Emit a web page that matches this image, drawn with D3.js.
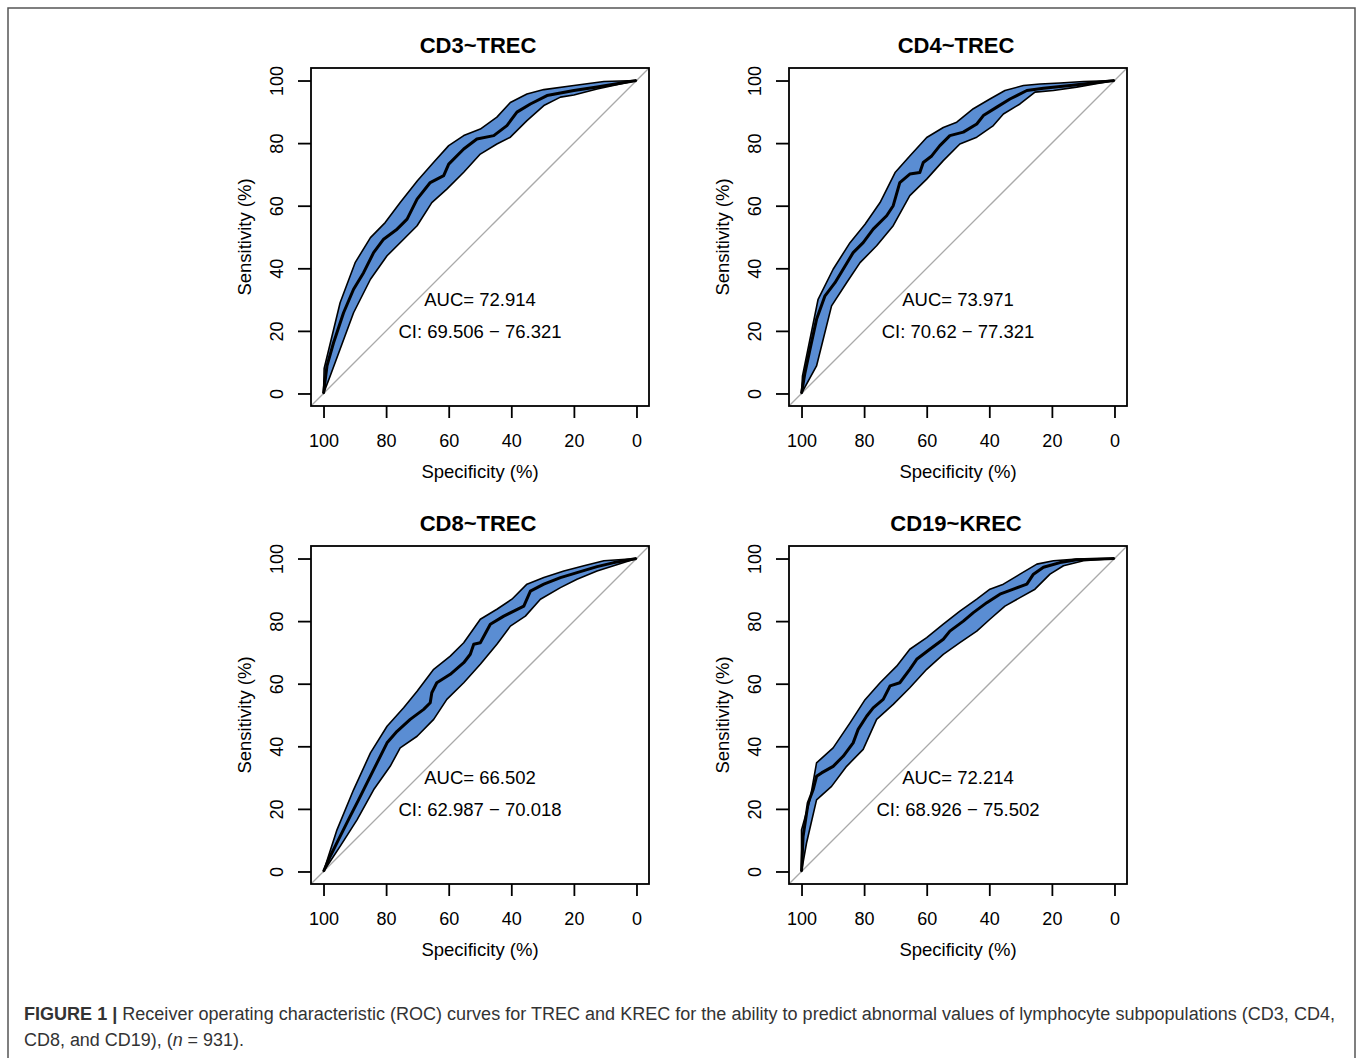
<!DOCTYPE html>
<html>
<head>
<meta charset="utf-8">
<script src="https://d3js.org/d3.v7.min.js"></script>
<style>
  body { margin: 0; padding: 0; background: #fff; }
  svg text { font-family: "Liberation Sans", Arial, sans-serif; fill: #000; }
  .caption text { font-family: "Liberation Sans Narrow", "Liberation Sans", Arial, sans-serif; fill: #333; }
</style>
</head>
<body>
<svg id="fig" width="1358" height="1058"></svg>
<script>
// ROC curves, points are [specificity, sensitivity] in %
var titles = ["CD3~TREC", "CD4~TREC", "CD8~TREC", "CD19~KREC"];
var aucLabels = ["AUC= 72.914", "AUC= 73.971", "AUC= 66.502", "AUC= 72.214"];
var ciLabels = ["CI: 69.506 \u2212 76.321", "CI: 70.62 \u2212 77.321", "CI: 62.987 \u2212 70.018", "CI: 68.926 \u2212 75.502"];
var xTicks = [100, 80, 60, 40, 20, 0];
var yTicks = [0, 20, 40, 60, 80, 100];

var cd3Curve = [[100,0],[98.9,8.8],[96.8,16.2],[93.6,25.8],[90.4,33.3],[87.2,38.6],[84,45],[80.8,49.3],[76.5,52.5],[73.3,55.7],[70.1,62.1],[65.9,67.4],[61.6,69.6],[60,73.3],[55.2,78.1],[51,81.3],[45.6,82.4],[41.4,85.6],[38.2,89.9],[33.9,92.5],[28.6,95.2],[20,96.8],[12.6,97.9],[0,100]];
var cd3Upper = [[100,0],[99.8,8],[94.7,29],[89.9,41.8],[85,49.8],[80.3,54.6],[75.5,61],[70,68],[64.8,73.9],[60,79.2],[55.2,82.4],[49.9,84.5],[44.6,88.3],[40.3,93],[35,95.7],[29.6,97.1],[20,98.4],[10.4,99.7],[0,100]];
var cd3Lower = [[100,0],[97.9,5.5],[90.4,25.8],[85,36.5],[79.7,44],[74.4,49.3],[70.1,53.6],[65.4,61],[60.6,65.3],[55.2,70.7],[49.9,76.5],[44.6,79.7],[40.3,81.9],[35,87.2],[29.6,92],[24.3,94.7],[20,95.4],[12.6,97.3],[0,100]];

var cd4Curve = [[100,0],[98.9,6.6],[97.3,14.1],[95.2,23.7],[92.5,31.2],[89.3,35.4],[86.7,39.7],[83.5,45],[80.3,48.2],[77.1,52.5],[72.8,56.8],[70.7,60],[68.6,67.4],[65.4,70.1],[62.2,70.6],[61.1,73.8],[58.4,75.9],[55.8,79.2],[52.6,82.4],[48.3,83.5],[44,86.1],[41.9,88.8],[37.6,91.5],[33.4,94.1],[28,96.8],[22.7,97.5],[14.2,98.4],[0,100]];
var cd4Upper = [[100,0],[99.7,5.5],[94.7,30.1],[89.9,39.7],[84.5,48.2],[79.7,54.1],[74.9,61],[70.1,70.6],[65.4,75.9],[60,81.8],[54.7,85],[50.4,86.7],[45.1,91],[39.8,94.1],[35,96.8],[29.1,98.4],[23.8,98.9],[17.4,99.2],[9.9,99.7],[0,100]];
var cd4Lower = [[100,0],[95.2,8.8],[90.4,28],[85.6,35.4],[81.3,41.8],[76,47.2],[70.7,53.6],[65.4,63.2],[60,68.5],[54.7,74.4],[49.4,79.7],[44,81.9],[38.7,85.6],[35.5,89.3],[30.2,92.5],[25.4,96.3],[19.5,96.8],[12.1,97.9],[0,100]];

var cd8Curve = [[100,0],[97.9,4.8],[94.7,11.2],[91.5,17.6],[88.8,22.9],[86.1,28.3],[82.9,34.7],[79.7,41.1],[76.5,44.8],[72.3,48.6],[68,51.8],[65.9,53.9],[65.4,57.1],[63.8,60.3],[59.5,63],[55.2,66.7],[53.1,69.4],[52,72.6],[49.9,73.1],[46.7,79],[42.4,81.6],[39.2,83.2],[36,84.8],[33.9,89.6],[29.6,91.8],[24.3,93.9],[19,95.5],[12.6,97.4],[7.2,98.7],[0,100]];
var cd8Upper = [[100,0],[95.7,13.3],[90.4,26.1],[85,37.9],[79.7,46.4],[74.4,52.3],[70.1,57.6],[64.8,64.6],[59.5,68.8],[55.2,73.1],[49.9,80.6],[44.6,83.8],[39.8,87],[35,91.8],[29.6,93.9],[23.2,96],[16.8,97.7],[10.4,99.3],[0,100]];
var cd8Lower = [[100,0],[94.7,8],[89.3,16.5],[84,26.1],[78.7,33.6],[75.5,39.5],[70.1,43.2],[64.8,48.6],[60.6,55],[55.2,60.3],[49.9,66.2],[44.6,72.6],[40.3,78.4],[35.5,81.6],[30.7,87],[24.3,90.7],[19,93.4],[12.6,96],[0,100]];

var cd19Curve = [[100,0],[99.5,11.2],[97.9,21.9],[96.3,26.1],[95.2,30.4],[93.6,31.5],[89.9,33.6],[86.7,36.8],[83.5,41.1],[81.9,45.4],[79.2,49.6],[77.1,52.3],[73.9,55],[71.7,59.3],[68.6,60.3],[65.4,64.6],[63.2,67.8],[59,71],[54.7,74.2],[52.6,76.8],[48.3,80],[45.1,82.7],[40.8,85.9],[36.6,88.6],[32.3,90.2],[28,91.8],[25.9,95],[22.7,97.2],[17.4,98.7],[12.1,99.6],[0,100]];
var cd19Upper = [[100,0],[100,13.3],[97.3,22.9],[95.2,34.7],[89.9,39.5],[84.5,47.5],[79.7,54.9],[74.9,60.3],[69.6,65.6],[65.4,71],[60,74.7],[54.7,79],[49.4,83.2],[44,87],[39.8,90.2],[35.5,91.8],[30.2,95],[24.8,98.2],[19.5,99.3],[12.1,99.8],[0,100]];
var cd19Lower = [[100,0],[98.4,9.1],[95.2,22.9],[90.4,27.2],[85.6,33.6],[80.3,39],[76,48.6],[70.7,53.4],[65.4,58.7],[60,64.6],[54.7,69.4],[49.4,73.1],[44,76.8],[39.8,80.6],[35,84.8],[30.2,87.5],[25.4,90.2],[20.6,95],[16.3,97.7],[9.9,99.3],[0,100]];

var curves = [cd3Curve, cd4Curve, cd8Curve, cd19Curve];
var uppers = [cd3Upper, cd4Upper, cd8Upper, cd19Upper];
var lowers = [cd3Lower, cd4Lower, cd8Lower, cd19Lower];

// layout
var boxW = 338, boxH = 338;
var origins = [[311, 68], [789, 68], [311, 546], [789, 546]];
var bandColor = "#5a8dd3";

var svg = d3.select("#fig");

// outer figure frame
svg.append("rect")
    .attr("x", 8).attr("y", 8)
    .attr("width", 1347).attr("height", 1080)
    .attr("fill", "none")
    .attr("stroke", "#555")
    .attr("stroke-width", 1.5);

var x = d3.scaleLinear().domain([104, -4]).range([0, boxW]);
var y = d3.scaleLinear().domain([-4, 104]).range([boxH, 0]);

var line = d3.line().x(function(d) { return x(d[0]); }).y(function(d) { return y(d[1]); });

for (var i = 0; i < 4; i++) {
    var g = svg.append("g")
        .attr("transform", "translate(" + origins[i][0] + "," + origins[i][1] + ")");

    var clipId = "clip" + i;
    g.append("clipPath").attr("id", clipId)
        .append("rect").attr("width", boxW).attr("height", boxH);

    // chance line
    g.append("line")
        .attr("clip-path", "url(#" + clipId + ")")
        .attr("x1", x(104)).attr("y1", y(-4))
        .attr("x2", x(-4)).attr("y2", y(104))
        .attr("stroke", "#aaa")
        .attr("stroke-width", 1.3);

    // confidence band
    var band = uppers[i].concat(lowers[i].slice().reverse());
    g.append("path")
        .attr("d", line(band) + "Z")
        .attr("fill", bandColor)
        .attr("stroke", "#000")
        .attr("stroke-width", 1.6)
        .attr("stroke-linejoin", "round");

    // ROC curve
    g.append("path")
        .attr("d", line(curves[i]))
        .attr("fill", "none")
        .attr("stroke", "#000")
        .attr("stroke-width", 3)
        .attr("stroke-linejoin", "round");

    // box
    g.append("rect")
        .attr("width", boxW).attr("height", boxH)
        .attr("fill", "none")
        .attr("stroke", "#000")
        .attr("stroke-width", 1.8);

    // axes
    var xAxis = d3.axisBottom(x).tickValues(xTicks).tickSize(12).tickPadding(6).tickFormat(d3.format("d"));
    var xg = g.append("g").attr("transform", "translate(0," + boxH + ")").call(xAxis);
    xg.select(".domain").remove();
    xg.selectAll(".tick line").attr("stroke", "#000").attr("stroke-width", 1.8);
    xg.selectAll(".tick text")
        .attr("font-size", 18).attr("font-family", "Liberation Sans, Arial, sans-serif")
        .attr("y", 0).attr("dy", 0)
        .attr("transform", "translate(0,41)")
        .attr("fill", "#000");

    var yAxis = d3.axisLeft(y).tickValues(yTicks).tickSize(13).tickFormat(d3.format("d"));
    var yg = g.append("g").call(yAxis);
    yg.select(".domain").remove();
    yg.selectAll(".tick line").attr("stroke", "#000").attr("stroke-width", 1.8);
    yg.selectAll(".tick text")
        .attr("font-size", 18).attr("font-family", "Liberation Sans, Arial, sans-serif")
        .attr("x", 0).attr("dy", 0)
        .attr("text-anchor", "middle")
        .attr("transform", "translate(-28,0) rotate(-90)")
        .attr("fill", "#000");

    // title
    g.append("text")
        .attr("x", boxW / 2 - 2).attr("y", -15)
        .attr("text-anchor", "middle")
        .attr("font-weight", "bold")
        .attr("font-size", 22)
        .text(titles[i]);

    // axis titles
    g.append("text")
        .attr("x", boxW / 2).attr("y", boxH + 72)
        .attr("text-anchor", "middle")
        .attr("font-size", 18.5)
        .text("Specificity (%)");

    g.append("text")
        .attr("transform", "translate(-60," + (boxH / 2) + ") rotate(-90)")
        .attr("text-anchor", "middle")
        .attr("font-size", 18.5)
        .text("Sensitivity (%)");

    // AUC labels
    g.append("text")
        .attr("x", x(50)).attr("y", y(27.9))
        .attr("text-anchor", "middle")
        .attr("font-size", 18.5)
        .text(aucLabels[i]);
    g.append("text")
        .attr("x", x(50)).attr("y", y(17.6))
        .attr("text-anchor", "middle")
        .attr("font-size", 18.5)
        .text(ciLabels[i]);
}

// caption
var cap = svg.append("g").attr("class", "caption");
var l1 = cap.append("text").attr("x", 24).attr("y", 1020).attr("font-size", 18)
    .attr("textLength", 1311).attr("lengthAdjust", "spacingAndGlyphs");
l1.append("tspan").attr("font-weight", "bold").text("FIGURE 1 |");
l1.append("tspan").text(" Receiver operating characteristic (ROC) curves for TREC and KREC for the ability to predict abnormal values of lymphocyte subpopulations (CD3, CD4,");
var l2 = cap.append("text").attr("x", 24).attr("y", 1046).attr("font-size", 18)
    .attr("textLength", 220).attr("lengthAdjust", "spacingAndGlyphs");
l2.append("tspan").text("CD8, and CD19), (");
l2.append("tspan").attr("font-style", "italic").text("n");
l2.append("tspan").text(" = 931).");
</script>
</body>
</html>
